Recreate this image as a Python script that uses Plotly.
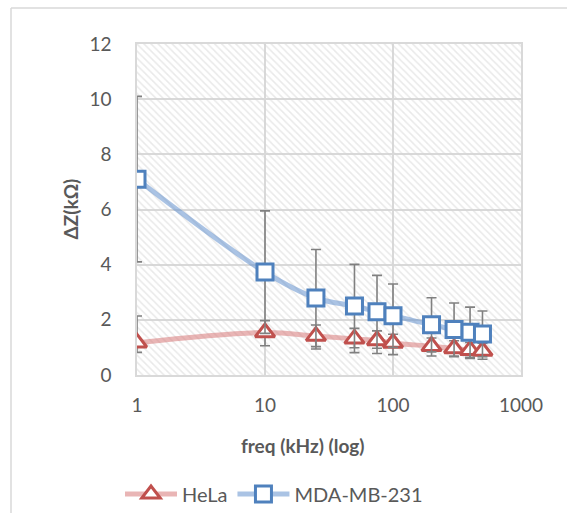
import plotly.graph_objects as go

# ---- data ----
freq_khz = [1, 10, 25, 50, 75, 100, 200, 300, 400, 500]
hela = [1.17, 1.54, 1.41, 1.31, 1.25, 1.16, 1.04, 0.96, 0.90, 0.87]
hela_err_plus = [0.97, 0.43, 0.40, 0.38, 0.35, 0.32, 0.30, 0.28, 0.28, 0.28]
hela_err_minus = [0.35, 0.48, 0.47, 0.50, 0.47, 0.42, 0.35, 0.30, 0.30, 0.30]
mda = [7.10, 3.73, 2.79, 2.50, 2.29, 2.15, 1.82, 1.65, 1.55, 1.49]
mda_err = [3.00, 2.22, 1.76, 1.51, 1.32, 1.15, 0.98, 0.96, 0.91, 0.83]

x_range = [1, 1000]
y_range = [0, 12]
x_ticks = [1, 10, 100, 1000]
x_ticktext = ["1", "10", "100", "1000"]

FONT = "Lato"
TXT = "#595959"

fig = go.Figure()

# hatched plot-area background
fig.add_trace(go.Scatter(
    x=[x_range[0], x_range[1], x_range[1], x_range[0], x_range[0]],
    y=[y_range[0], y_range[0], y_range[1], y_range[1], y_range[0]],
    mode="lines", line=dict(width=0), fill="toself",
    fillcolor="rgba(0,0,0,0)",
    fillpattern=dict(shape="\\", fgcolor="#d4d4d4", bgcolor="rgba(0,0,0,0)",
                     size=5, solidity=0.3),
    hoverinfo="skip", showlegend=False))

fig.add_trace(go.Scatter(
    x=freq_khz, y=hela, name="HeLa", mode="lines+markers",
    line=dict(color="rgba(215,120,120,0.55)", width=5, shape="spline"),
    marker=dict(symbol="triangle-up", size=17, color="white",
                line=dict(color="#c0504d", width=3)),
    error_y=dict(type="data", array=hela_err_plus, arrayminus=hela_err_minus,
                 symmetric=False, color="#808080", thickness=1.6, width=5)))

fig.add_trace(go.Scatter(
    x=freq_khz, y=mda, name="MDA-MB-231", mode="lines+markers",
    line=dict(color="rgba(100,145,205,0.55)", width=5, shape="spline"),
    marker=dict(symbol="square", size=16, color="white",
                line=dict(color="#4f81bd", width=3)),
    error_y=dict(type="data", array=mda_err, color="#808080", thickness=1.6, width=5)))

# outer chart border (top and left edges visible in the crop)
PW = 384.0
PH = 331.0
border_x0 = (11 - 137) / PW
border_y1 = (375 - 8) / PH
fig.add_shape(type="line", xref="paper", yref="paper",
              x0=border_x0, x1=(567 - 137) / PW, y0=border_y1, y1=border_y1,
              line=dict(color="#d9d9d9", width=1.5), layer="below")
fig.add_shape(type="line", xref="paper", yref="paper",
              x0=border_x0, x1=border_x0, y0=(375 - 513) / PH, y1=border_y1,
              line=dict(color="#d9d9d9", width=1.5), layer="below")

fig.add_annotation(text="<b>freq (kHz) (log)</b>", xref="paper", yref="paper",
                   x=(303 - 137) / PW, y=(375 - 445) / PH, showarrow=False,
                   xanchor="center", yanchor="middle",
                   font=dict(family=FONT, size=19, color=TXT))
fig.add_annotation(text="<b>ΔZ(kΩ)</b>", xref="paper", yref="paper",
                   x=(70 - 137) / PW, y=0.5, textangle=-90, showarrow=False,
                   xanchor="center", yanchor="middle",
                   font=dict(family=FONT, size=19, color=TXT))

fig.update_layout(
    width=567, height=513,
    margin=dict(l=137, r=46, t=44, b=138),
    paper_bgcolor="white", plot_bgcolor="white",
    font=dict(family=FONT, size=19, color=TXT),
    showlegend=True,
    legend=dict(orientation="h", xref="container", yref="container",
                x=274 / 567, y=1 - 494 / 513, xanchor="center", yanchor="middle",
                itemwidth=52, tracegroupgap=20,
                font=dict(family=FONT, size=20, color=TXT)),
    xaxis=dict(type="log", range=[0, 3], tickvals=x_ticks, ticktext=x_ticktext,
               showgrid=True, gridcolor="#d9d9d9", gridwidth=1.5,
               showline=True, mirror=True, linecolor="#d9d9d9", linewidth=1.5,
               zeroline=False, ticks="", ticklabelstandoff=12),
    yaxis=dict(range=y_range, dtick=2, showgrid=True, gridcolor="#d9d9d9", gridwidth=1.5,
               showline=True, mirror=True, linecolor="#d9d9d9", linewidth=1.5,
               zeroline=False, ticks="", ticklabelstandoff=20),
)

fig.write_html("out.html")
